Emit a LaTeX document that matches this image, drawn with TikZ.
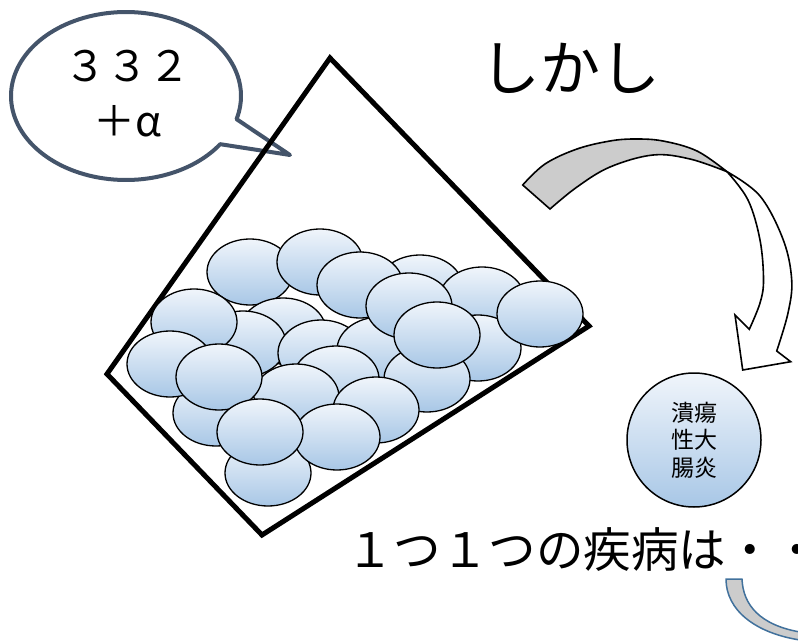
\documentclass[tikz,border=0pt]{standalone}
\usepackage{fontspec}
\setmainfont{Noto Sans CJK JP}
\definecolor{bubbleline}{RGB}{68,84,106}
\definecolor{lightblue}{RGB}{168,199,230}
\definecolor{paleblue}{RGB}{240,245,251}
\definecolor{arrowgray}{RGB}{204,204,204}
\definecolor{accentblue}{RGB}{65,113,156}
\begin{document}
\begin{tikzpicture}[x=1pt,y=-1pt,
  cell/.style={draw=black, line width=1.3pt, top color=paleblue, bottom color=lightblue},
  bubblestyle/.style={draw=bubbleline, line width=4pt, fill=white, line join=round},
  arrowpart/.style={draw=black, line width=1.6pt, line join=miter},
  txt/.style={inner sep=0pt, text=black}]
\useasboundingbox (0,0) rectangle (798,642);
% speech bubble
\draw[bubblestyle] plot[domain=35:376, samples=140] ({126+115*cos(\x)},{96+84*sin(\x)}) -- (290,155) -- cycle;
\node[txt, font=\fontsize{42}{50}\selectfont] (num) at (127,66) {３３２};
\node[txt, font=\fontsize{42}{50}\selectfont] (plus) at (128,121) {＋α};
% container
\draw[line width=5pt, line join=miter] (330,58) -- (107,374) -- (262,535) -- (589,326) -- cycle;
% cells (back to front)
\foreach \cx/\cy in {420/288, 250/272, 320/262, 360/285, 283/331, 243/344, 321/353, 194/322, 380/350,
  482/300, 409/306, 478/348, 540/314, 427/379, 437/335, 336/379, 296/397, 376/410, 216/413,
  170/364, 219/377, 268/473, 337/437, 260/432}
  \path[cell] (\cx,\cy) ellipse [x radius=43pt, y radius=33pt];
% しかし
\node[txt, font=\fontsize{60}{70}\selectfont] (shikashi) at (570,68) {しかし};
% curved arrow: back (gray) part
\path[arrowpart, fill=arrowgray]
  plot[smooth, tension=0.6] coordinates {(522.7,185) (545,164) (577,149) (610,141) (635,139) (663,141) (697,151) (727,171.7)}
  -- plot[smooth, tension=0.6] coordinates {(727,171.7) (690,159) (653,155) (610,167) (577,187) (550,209)}
  -- cycle;
% front (white) part with head
\path[arrowpart, fill=white]
  plot[smooth, tension=0.6] coordinates {(727,171.7) (748,200) (760,240) (763.5,280) (760,303) (749.3,329.3)}
  -- (735,315) -- (742.7,370) -- (790.7,361.7) -- (776.7,351)
  -- plot[smooth, tension=0.6] coordinates {(776.7,351) (788,313) (791.7,280) (783.3,240) (760,196) (727,171.7)}
  -- cycle;
% disease circle
\node[circle, minimum size=134pt, inner sep=0pt, draw=black, line width=1.5pt,
  top color=paleblue, bottom color=lightblue] (uc) at (694,440) {};
\node[txt, font=\fontsize{23}{27.5}\selectfont, align=center] (uctext) at (uc.center) {潰瘍\\性大\\腸炎};
% bottom text
\node[txt, anchor=west, font=\fontsize{47.5}{55}\selectfont] (bottom) at (346,550) {１つ１つの疾病は・・};
% small curved band bottom right
\path[draw=accentblue, line width=1.5pt, fill=arrowgray, line join=round]
  (726,579) -- (742,579) .. controls (743,605) and (760,625) .. (800,632)
  -- (800,640) .. controls (755,633) and (726,610) .. (726,579) -- cycle;
\end{tikzpicture}
\end{document}
